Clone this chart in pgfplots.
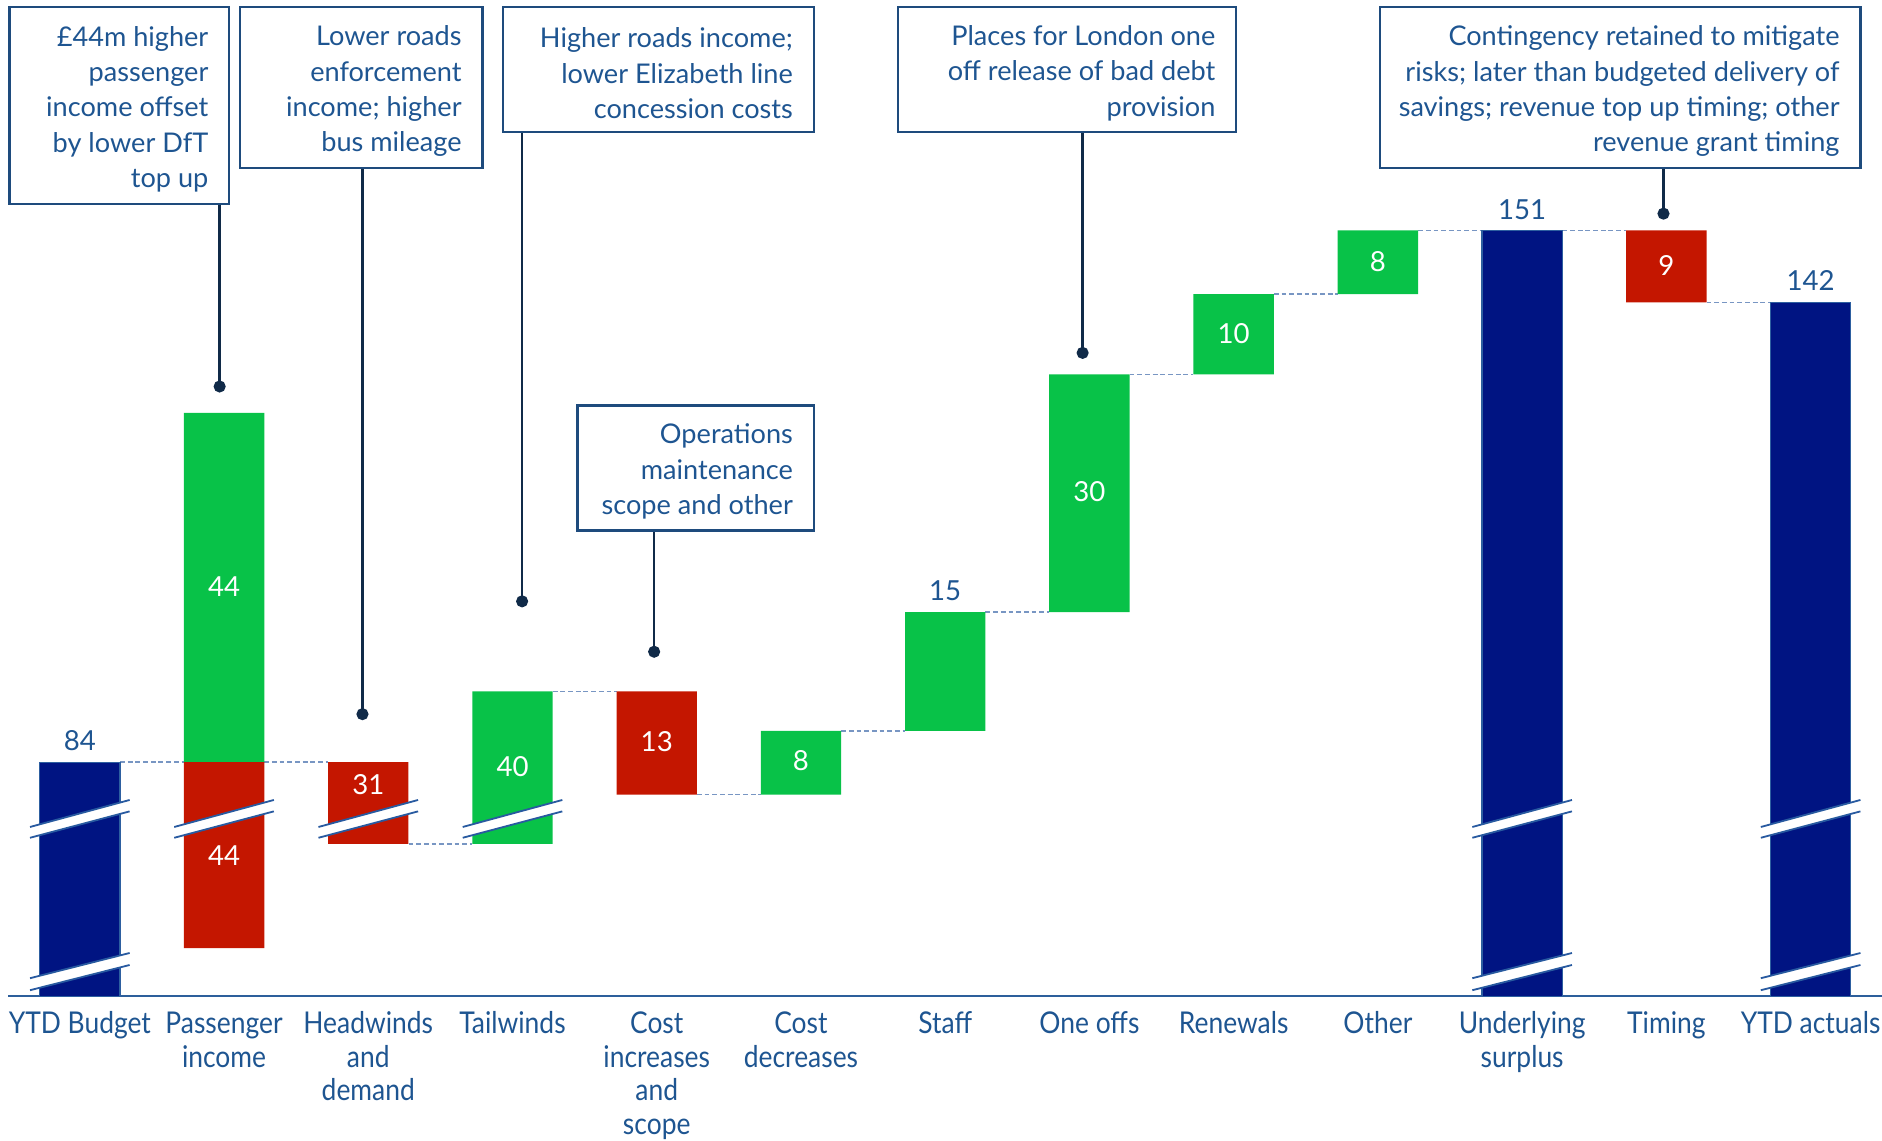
\documentclass[border=0pt]{standalone}
\usepackage{fontspec}
\setmainfont{Lato}
\newfontfamily\tickfamily[FakeStretch=0.88]{Lato}
\usepackage{pgfplots}
\pgfplotsset{compat=1.18}
\usepackage{pgfplotstable}

\definecolor{navybar}{RGB}{0,20,130}
\definecolor{navyedge}{RGB}{45,95,160}
\definecolor{greenbar}{RGB}{8,194,72}
\definecolor{redbar}{RGB}{196,22,0}
\definecolor{textblue}{RGB}{30,85,145}
\definecolor{boxblue}{RGB}{30,75,125}
\definecolor{leader}{RGB}{16,42,72}
\definecolor{dashcol}{RGB}{120,150,195}
\definecolor{axisblue}{RGB}{45,95,155}
\definecolor{breakblue}{RGB}{40,90,160}

% visual heights (chart is not to scale): navy totals, invisible base, red and green steps
\pgfplotstableread{
idx navy base red green
0   195  0    0   0
1   0    40   155 291
2   0    127  68  0
3   0    127  0   127
4   0    168  86  0
5   0    168  0   53
6   0    221  0   99
7   0    320  0   198
8   0    518  0   67
9   0    585  0   53
10  638  0    0   0
11  0    578  60  0
12  578  0    0   0
}\wfdata

\pgfplotstableread{
x y
0.279 195
0.721 195
nan nan
1.279 195
1.721 195
nan nan
2.279 127
2.721 127
nan nan
3.279 254
3.721 254
nan nan
4.279 168
4.721 168
nan nan
5.279 221
5.721 221
nan nan
6.279 320
6.721 320
nan nan
7.279 518
7.721 518
nan nan
8.279 585
8.721 585
nan nan
9.279 638
9.721 638
nan nan
10.279 638
10.721 638
nan nan
11.279 578
11.721 578
}\conn

\newcommand\annfont{\fontsize{11.3}{14.75}\selectfont}
\newcommand\valfont{\fontsize{11.5}{13}\selectfont}

\begin{document}
\begin{tikzpicture}
\begin{axis}[
  scale only axis,
  width=780.5pt, height=415pt,
  xmin=-0.495, xmax=12.495,
  ymin=0, ymax=830,
  clip=false,
  ybar stacked,
  bar width=0.5575,
  axis x line=bottom, axis y line=none,
  x axis line style={-, draw=axisblue, line width=0.8pt},
  xtick={0,...,12},
  xticklabels={YTD Budget,{Passenger\\income},{Headwinds\\and\\demand},Tailwinds,{Cost\\increases\\and\\scope},{Cost\\decreases},Staff,One offs,Renewals,Other,{Underlying\\surplus},Timing,YTD actuals},
  major tick length=0pt,
  typeset ticklabels with strut,
  xticklabel style={font=\tickfamily\fontsize{12.5}{14}\selectfont, text=textblue, align=center, anchor=north, inner sep=0pt, yshift=-5.5pt},
  ytick=\empty,
]
\addplot[fill=navybar, draw=navyedge, line width=0.5pt] table[x=idx,y=navy]{\wfdata};
\addplot[fill=none, draw=none] table[x=idx,y=base]{\wfdata};
\addplot[fill=redbar, draw=none] table[x=idx,y=red]{\wfdata};
\addplot[fill=greenbar, draw=none] table[x=idx,y=green]{\wfdata};

\addplot[sharp plot, stack plots=false, draw=dashcol, line width=0.6pt, dash pattern=on 2pt off 1.2pt, unbounded coords=jump, forget plot, mark=none] table[x=x,y=y]{\conn};

% callout leaders
\addplot[sharp plot, stack plots=false, draw=leader, line width=1pt, mark=*, mark size=2pt, mark indices={2}, mark options={fill=leader, draw=leader}, forget plot] coordinates {(0.9695,660) (0.9695,508)};
\addplot[sharp plot, stack plots=false, draw=leader, line width=1pt, mark=*, mark size=2pt, mark indices={2}, mark options={fill=leader, draw=leader}, forget plot] coordinates {(1.9597,690) (1.9597,235)};
\addplot[sharp plot, stack plots=false, draw=leader, line width=1pt, mark=*, mark size=2pt, mark indices={2}, mark options={fill=leader, draw=leader}, forget plot] coordinates {(3.0665,720) (3.0665,329)};
\addplot[sharp plot, stack plots=false, draw=leader, line width=1pt, mark=*, mark size=2pt, mark indices={2}, mark options={fill=leader, draw=leader}, forget plot] coordinates {(3.9819,388) (3.9819,287)};
\addplot[sharp plot, stack plots=false, draw=leader, line width=1pt, mark=*, mark size=2pt, mark indices={2}, mark options={fill=leader, draw=leader}, forget plot] coordinates {(6.9527,720) (6.9527,536)};
\addplot[sharp plot, stack plots=false, draw=leader, line width=1pt, mark=*, mark size=2pt, mark indices={2}, mark options={fill=leader, draw=leader}, forget plot] coordinates {(10.980,690) (10.980,652)};

\coordinate (TL) at (axis cs:-0.5534,830);
\coordinate (BR) at (axis cs:12.495,-120);
\end{axis}

\begin{scope}[shift={(TL)}, x=0.5pt, y=-0.5pt]
  % axis breaks
  \foreach \i in {0,1,2,3,10,12}{
    \pgfmathsetmacro\L{66.5+120.17*\i-41.5}
    \pgfmathsetmacro\R{66.5+120.17*\i+41.5}
    \fill[white] (\L,689) -- (\R,666.5) -- (\R,676) -- (\L,698) -- cycle;
    \draw[breakblue, line width=0.75pt] (\L,689) -- (\R,666.5);
    \draw[breakblue, line width=0.75pt] (\L,698) -- (\R,676);
  }
  \foreach \i in {0,10,12}{
    \pgfmathsetmacro\L{66.5+120.17*\i-41.5}
    \pgfmathsetmacro\R{66.5+120.17*\i+41.5}
    \fill[white] (\L,815) -- (\R,794) -- (\R,804) -- (\L,825) -- cycle;
    \draw[breakblue, line width=0.75pt] (\L,815) -- (\R,794);
    \draw[breakblue, line width=0.75pt] (\L,825) -- (\R,804);
  }
  % value labels (x = bar centre, y = pixel row)
  \foreach \i/\y/\c/\t in {0/617/textblue/84, 1/489/white/44, 1/713/white/44, 2/654/white/31, 3/639/white/40, 4/618/white/13, 5/634/white/8, 6/492/textblue/15, 7/410/white/30, 8/278/white/10, 9/218/white/8, 10/175/textblue/151, 11/221/white/9, 12/234/textblue/142}{
    \pgfmathsetmacro\X{66.5+120.17*\i}
    \node[font=\valfont, text=\c] at (\X,\y) {\t};
  }
  % annotation boxes
  \draw[boxblue, line width=1pt] (8,6) rectangle (191,170);
  \node[anchor=east, align=right, inner sep=0pt, font=\annfont, text=textblue] at (174,91) {£44m higher\\passenger\\income offset\\by lower DfT\\top up};
  \draw[boxblue, line width=1pt] (200,6) rectangle (402,140);
  \node[anchor=east, align=right, inner sep=0pt, font=\annfont, text=textblue] at (385,76) {Lower roads\\enforcement\\income; higher\\bus mileage};
  \draw[boxblue, line width=1pt] (419,6) rectangle (678,110);
  \node[anchor=east, align=right, inner sep=0pt, font=\annfont, text=textblue] at (661,61) {Higher roads income;\\lower Elizabeth line\\concession costs};
  \draw[boxblue, line width=1pt] (481,338) rectangle (678,442);
  \node[anchor=east, align=right, inner sep=0pt, font=\annfont, text=textblue] at (661,393) {Operations\\maintenance\\scope and other};
  \draw[boxblue, line width=1pt] (748,6) rectangle (1030,110);
  \node[anchor=east, align=right, inner sep=0pt, font=\annfont, text=textblue] at (1013,61) {Places for London one\\off release of bad debt\\provision};
  \draw[boxblue, line width=1pt] (1150,6) rectangle (1550,140);
  \node[anchor=east, align=right, inner sep=0pt, font=\annfont, text=textblue] at (1533,76) {Contingency retained to mitigate\\risks; later than budgeted delivery of\\savings; revenue top up timing; other\\revenue grant timing};
\end{scope}

\pgfresetboundingbox
\path[use as bounding box] (TL) rectangle (BR);
\end{tikzpicture}
\end{document}
